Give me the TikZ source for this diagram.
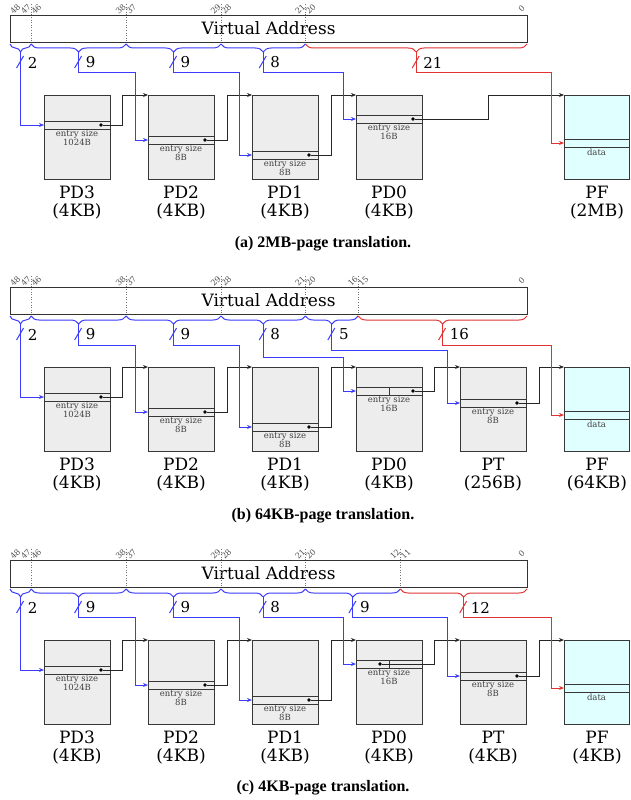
\documentclass[tikz,border=0pt]{standalone}
\usepackage{fontspec}
\setmainfont{DejaVu Serif}
\newfontfamily\capfont{Liberation Serif}
\usetikzlibrary{arrows.meta,decorations.pathreplacing}

\definecolor{tabfill}{RGB}{237,237,237}
\definecolor{pagefill}{RGB}{224,255,255}
\definecolor{idxblue}{RGB}{60,60,255}
\definecolor{offred}{RGB}{225,50,50}
\definecolor{edge}{RGB}{55,55,55}

% width of one address bit
\newcommand\bw{10.551}

\tikzset{
  tabbox/.style={draw=edge, line width=1pt, fill=tabfill, minimum width=66pt,
    minimum height=84pt, inner sep=0pt, outer sep=0pt, anchor=north west},
  pagebox/.style={tabbox, fill=pagefill, minimum width=65pt},
  rowbox/.style={draw=edge, line width=1pt, minimum width=66pt, minimum height=8pt,
    inner sep=0pt, outer sep=0pt, anchor=north west},
  pagerow/.style={rowbox, minimum width=65pt},
  esize/.style={font=\fontsize{8.5}{8.7}\selectfont, text=black!75, align=center,
    inner sep=1.5pt, anchor=north},
  tlbl/.style={font=\fontsize{17}{18}\selectfont, align=center, inner sep=0pt},
  ptrdot/.style={circle, fill=black, inner sep=0pt, minimum size=3.6pt},
  headtip/.style={-{Stealth[length=5pt,width=4pt]}},
  link/.style={draw=black!85, line width=1pt, headtip},
  idxwire/.style={draw=idxblue, line width=1pt},
  offwire/.style={draw=offred, line width=1pt},
  idxlink/.style={idxwire, headtip},
  offlink/.style={offwire, headtip},
  brc/.style={decorate, decoration={brace, mirror, amplitude=8pt}},
  vabox/.style={draw=black!80, line width=0.9pt, minimum width=517pt, minimum height=27pt,
    inner sep=0pt, outer sep=0pt, anchor=north west, font=\fontsize{17}{18}\selectfont},
  bitsep/.style={draw=black!55, dotted, line width=0.6pt},
  bitnum/.style={font=\fontsize{8}{8}\selectfont, text=black!70, rotate=45, inner sep=0pt},
  fieldno/.style={font=\fontsize{15}{16}\selectfont, anchor=west, inner sep=0pt},
  captext/.style={font=\capfont\bfseries\fontsize{16}{17}\selectfont, inner sep=0pt},
}

% table: name, left x, top y, entry-row offset, entry text, label, dot offset from right
\newcommand\ptab[7]{%
  \node[tabbox] (#1) at (#2,#3) {};
  \node[rowbox] (#1-e) at (#2,#3+#4) {};
  \node[esize] (#1-s) at (#1-e.south) {#5};
  \node[tlbl] (#1-l) at (#2+33,#3+108) {#6};
  \node[ptrdot] (#1-d) at (#2+66-#7,#3+#4+4) {};
}
% page frame: name, left x, top y, row offset, label
\newcommand\pframe[5]{%
  \node[pagebox] (#1) at (#2,#3) {};
  \node[pagerow] (#1-e) at (#2,#3+#4) {};
  \node[esize] (#1-s) at (#1-e.south) {data};
  \node[tlbl] (#1-l) at (#2+33,#3+108) {#5};
}
% address bar: prefix, y offset
\newcommand\vaddr[2]{%
  \node[vabox] (#1-va) at (10,15+#2) {Virtual Address};
}
% dotted field boundary: boundary index, y offset
\newcommand\bitcut[2]{%
  \draw[bitsep] ({527-#1*\bw},4+#2) -- ({527-#1*\bw},42+#2);
}
% bit number: prefix, bit, y offset
\newcommand\bitno[3]{%
  \node[bitnum] (#1-b#2) at ({527-(#2+0.5)*\bw},9+#3) {#2};
}
% field brace: tip name, left boundary, right boundary, y offset, colour style, width
\newcommand\field[6]{%
  \draw[#5, brc] ({527-#2*\bw},44+#4) -- ({527-#3*\bw},44+#4);
  \coordinate (#1) at ({527-(#2+#3)/2*\bw},52+#4);
  \draw[#5] (#1) ++(-4,16) -- ++(7,-12);
  \node[fieldno] (#1-w) at ({527-(#2+#3)/2*\bw+7},62.5+#4) {#6};
}

\begin{document}
\begin{tikzpicture}[x=1pt,y=-1pt]
\useasboundingbox (0,0) rectangle (630,800);

% ---------------- (a) 2MB page ----------------
\vaddr{a}{0}
\foreach \k in {47,38,29,21} {\bitcut{\k}{0}}
\foreach \k in {48,47,46,38,37,29,28,21,20,0} {\bitno{a}{\k}{0}}
\field{a-f1}{49}{47}{0}{idxwire}{2}
\field{a-f2}{47}{38}{0}{idxwire}{9}
\field{a-f3}{38}{29}{0}{idxwire}{9}
\field{a-f4}{29}{21}{0}{idxwire}{8}
\field{a-f5}{21}{0}{0}{offwire}{21}

\ptab{a-pd3}{44}{95}{26}{entry size\\1024B}{PD3\\(4KB)}{9}
\ptab{a-pd2}{148}{95}{41}{entry size\\8B}{PD2\\(4KB)}{9}
\ptab{a-pd1}{252}{95}{56}{entry size\\8B}{PD1\\(4KB)}{9}
\ptab{a-pd0}{356}{95}{20}{entry size\\16B}{PD0\\(4KB)}{9}
\pframe{a-pf}{564}{95}{44}{PF\\(2MB)}

\coordinate (a-k1) at (122,95);
\coordinate (a-k2) at (227,95);
\coordinate (a-k3) at (331,95);
\coordinate (a-k4) at (488,95);
\draw[link] (a-pd3-d) -| (a-k1) -- (a-pd2.north west);
\draw[link] (a-pd2-d) -| (a-k2) -- (a-pd1.north west);
\draw[link] (a-pd1-d) -| (a-k3) -- (a-pd0.north west);
\draw[link] (a-pd0-d) -| (a-k4) -- (a-pf.north west);

\coordinate (a-j2) at (135,72);
\coordinate (a-j3) at (239,72);
\coordinate (a-j4) at (343,72);
\coordinate (a-j5) at (551,72);
\draw[idxlink] (a-f1) |- (a-pd3-e.west);
\draw[idxlink] (a-f2) |- (a-j2) |- (a-pd2-e.west);
\draw[idxlink] (a-f3) |- (a-j3) |- (a-pd1-e.west);
\draw[idxlink] (a-f4) |- (a-j4) |- (a-pd0-e.west);
\draw[offlink] (a-f5) |- (a-j5) |- (a-pf-e.west);

\node[captext] (a-cap) at (323,244) {(a) 2MB-page translation.};

% ---------------- (b) 64KB page ----------------
\vaddr{b}{272}
\foreach \k in {47,38,29,21,16} {\bitcut{\k}{272}}
\foreach \k in {48,47,46,38,37,29,28,21,20,16,15,0} {\bitno{b}{\k}{272}}
\field{b-f1}{49}{47}{272}{idxwire}{2}
\field{b-f2}{47}{38}{272}{idxwire}{9}
\field{b-f3}{38}{29}{272}{idxwire}{9}
\field{b-f4}{29}{21}{272}{idxwire}{8}
\field{b-f5}{21}{16}{272}{idxwire}{5}
\field{b-f6}{16}{0}{272}{offwire}{16}

\ptab{b-pd3}{44}{367}{26}{entry size\\1024B}{PD3\\(4KB)}{9}
\ptab{b-pd2}{148}{367}{41}{entry size\\8B}{PD2\\(4KB)}{9}
\ptab{b-pd1}{252}{367}{56}{entry size\\8B}{PD1\\(4KB)}{9}
\ptab{b-pd0}{356}{367}{20}{entry size\\16B}{PD0\\(4KB)}{9}
\draw[draw=edge, line width=1pt] (b-pd0-e.north) -- (b-pd0-e.south);
\ptab{b-pt}{460}{367}{32}{entry size\\8B}{PT\\(256B)}{9}
\pframe{b-pf}{564}{367}{44}{PF\\(64KB)}

\coordinate (b-k1) at (122,367);
\coordinate (b-k2) at (227,367);
\coordinate (b-k3) at (331,367);
\coordinate (b-k4) at (434,367);
\coordinate (b-k5) at (539,367);
\draw[link] (b-pd3-d) -| (b-k1) -- (b-pd2.north west);
\draw[link] (b-pd2-d) -| (b-k2) -- (b-pd1.north west);
\draw[link] (b-pd1-d) -| (b-k3) -- (b-pd0.north west);
\draw[link] (b-pd0-d) -| (b-k4) -- (b-pt.north west);
\draw[link] (b-pt-d) -| (b-k5) -- (b-pf.north west);

\coordinate (b-j2) at (135,345);
\coordinate (b-j3) at (239,345);
\coordinate (b-j4) at (343,357);
\coordinate (b-j5) at (447,350);
\coordinate (b-j6) at (551,345);
\draw[idxlink] (b-f1) |- (b-pd3-e.west);
\draw[idxlink] (b-f2) |- (b-j2) |- (b-pd2-e.west);
\draw[idxlink] (b-f3) |- (b-j3) |- (b-pd1-e.west);
\draw[idxlink] (b-f4) |- (b-j4) |- (b-pd0-e.west);
\draw[idxlink] (b-f5) |- (b-j5) |- (b-pt-e.west);
\draw[offlink] (b-f6) |- (b-j6) |- (b-pf-e.west);

\node[captext] (b-cap) at (323,516) {(b) 64KB-page translation.};

% ---------------- (c) 4KB page ----------------
\vaddr{c}{545}
\foreach \k in {47,38,29,21,12} {\bitcut{\k}{545}}
\foreach \k in {48,47,46,38,37,29,28,21,20,12,11,0} {\bitno{c}{\k}{545}}
\field{c-f1}{49}{47}{545}{idxwire}{2}
\field{c-f2}{47}{38}{545}{idxwire}{9}
\field{c-f3}{38}{29}{545}{idxwire}{9}
\field{c-f4}{29}{21}{545}{idxwire}{8}
\field{c-f5}{21}{12}{545}{idxwire}{9}
\field{c-f6}{12}{0}{545}{offwire}{12}

\ptab{c-pd3}{44}{640}{26}{entry size\\1024B}{PD3\\(4KB)}{9}
\ptab{c-pd2}{148}{640}{41}{entry size\\8B}{PD2\\(4KB)}{9}
\ptab{c-pd1}{252}{640}{56}{entry size\\8B}{PD1\\(4KB)}{9}
\ptab{c-pd0}{356}{640}{20}{entry size\\16B}{PD0\\(4KB)}{42}
\draw[draw=edge, line width=1pt] (c-pd0-e.north) -- (c-pd0-e.south);
\ptab{c-pt}{460}{640}{32}{entry size\\8B}{PT\\(4KB)}{9}
\pframe{c-pf}{564}{640}{44}{PF\\(4KB)}

\coordinate (c-k1) at (122,640);
\coordinate (c-k2) at (227,640);
\coordinate (c-k3) at (331,640);
\coordinate (c-k4) at (434,640);
\coordinate (c-k5) at (539,640);
\draw[link] (c-pd3-d) -| (c-k1) -- (c-pd2.north west);
\draw[link] (c-pd2-d) -| (c-k2) -- (c-pd1.north west);
\draw[link] (c-pd1-d) -| (c-k3) -- (c-pd0.north west);
\draw[link] (c-pd0-d) -| (c-k4) -- (c-pt.north west);
\draw[link] (c-pt-d) -| (c-k5) -- (c-pf.north west);

\coordinate (c-j2) at (135,617);
\coordinate (c-j3) at (239,617);
\coordinate (c-j4) at (343,617);
\coordinate (c-j5) at (447,617);
\coordinate (c-j6) at (551,617);
\draw[idxlink] (c-f1) |- (c-pd3-e.west);
\draw[idxlink] (c-f2) |- (c-j2) |- (c-pd2-e.west);
\draw[idxlink] (c-f3) |- (c-j3) |- (c-pd1-e.west);
\draw[idxlink] (c-f4) |- (c-j4) |- (c-pd0-e.west);
\draw[idxlink] (c-f5) |- (c-j5) |- (c-pt-e.west);
\draw[offlink] (c-f6) |- (c-j6) |- (c-pf-e.west);

\node[captext] (c-cap) at (323,788) {(c) 4KB-page translation.};
\end{tikzpicture}
\end{document}
